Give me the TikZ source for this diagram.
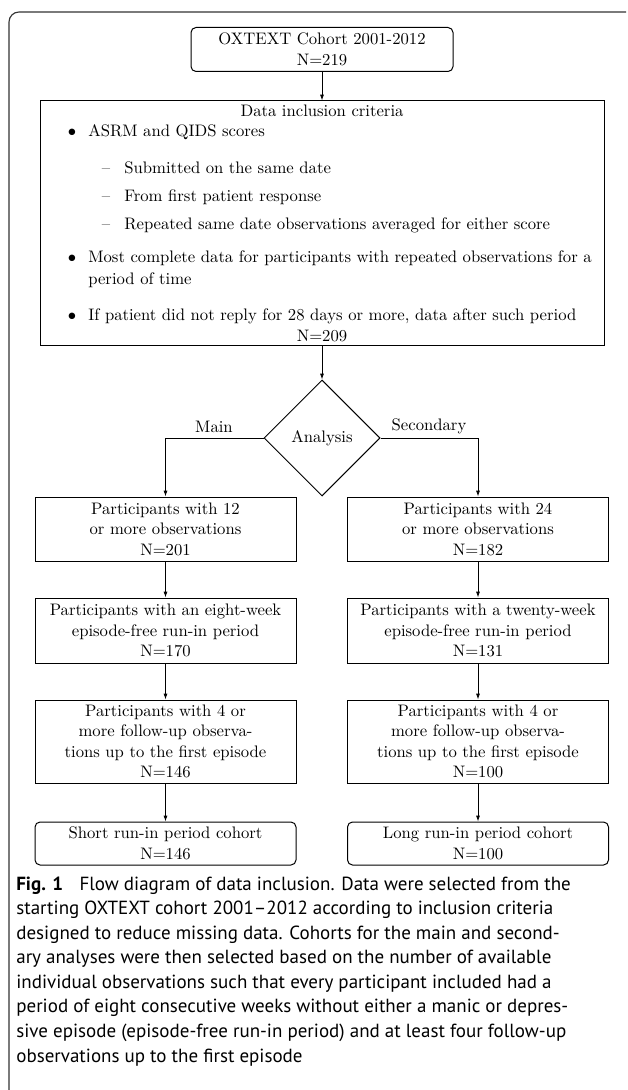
\documentclass[tikz,border=0pt]{standalone}
\usepackage{fontspec}
\newfontfamily\capfont{PT Sans}
\usetikzlibrary{shapes.geometric,arrows.meta}
\begin{document}
\begin{tikzpicture}[x=0.6pt,y=-0.6pt,
  box/.style={draw, line width=0.6pt, align=center, inner sep=0pt, font=\fontsize{10}{12.3}\selectfont},
  rbox/.style={box, rounded corners=3pt},
  arr/.style={-{Latex[length=3.5pt,width=2.4pt]}, line width=0.5pt},
  txt/.style={anchor=base west, inner sep=0pt, font=\fontsize{10}{12}\selectfont},
  ctxt/.style={anchor=base, inner sep=0pt, font=\fontsize{10}{12}\selectfont},
  captxt/.style={anchor=base west, inner sep=0pt, font=\capfont\fontsize{11.4}{14}\selectfont},
  colbox/.style={box, minimum width=156.6pt},
]
\useasboundingbox (0,0) rectangle (627,1090);
% outer frame
\draw[line width=0.7pt, black!80, rounded corners=6pt] (9,1090) -- (9,12) -- (626,12);

% top
\node[rbox, minimum width=157.2pt, minimum height=26.4pt] (start) at (322,49.5)
  {OXTEXT Cohort 2001-2012\\N=219};
\node[box, minimum width=338.4pt, minimum height=147pt] (crit) at (322,223.5) {};
\node[ctxt] (t0) at (322,117) {Data inclusion criteria};
\node[ctxt] (b1) at (72,137) {$\bullet$};
\node[txt] (t1) at (88,137) {ASRM and QIDS scores};
\node[ctxt] (d1) at (106,174) {\textendash};
\node[txt] (t2) at (124,174) {Submitted on the same date};
\node[ctxt] (d2) at (106,202) {\textendash};
\node[txt] (t3) at (124,202) {From first patient response};
\node[ctxt] (d3) at (106,230) {\textendash};
\node[txt] (t4) at (124,230) {Repeated same date observations averaged for either score};
\node[ctxt] (b2) at (72,263) {$\bullet$};
\node[txt] (t5) at (88,263) {Most complete data for participants with repeated observations for a};
\node[txt] (t6) at (88,285) {period of time};
\node[ctxt] (b3) at (72,320) {$\bullet$};
\node[txt] (t7) at (88,320) {If patient did not reply for 28 days or more, data after such period};
\node[ctxt] (t8) at (322,341) {N=209};

% decision
\node[draw, line width=0.6pt, diamond, aspect=1, minimum size=69.6pt, inner sep=0pt,
  font=\fontsize{10}{12}\selectfont] (dia) at (322,438) {Analysis};
\node[ctxt] (lmain) at (214,432) {Main};
\node[ctxt] (lsec) at (429,430) {Secondary};

% left column
\node[colbox, minimum height=38.4pt] (l1) at (165.5,529) {Participants with 12\\or more observations\\N=201};
\node[colbox, minimum height=39pt] (l2) at (165.5,630.5) {Participants with an eight-week\\episode-free run-in period\\N=170};
\node[colbox, minimum height=49.8pt] (l3) at (165.5,741.5) {Participants with 4 or\\more follow-up observa-\\tions up to the first episode\\N=146};
\node[colbox, rounded corners=3pt, minimum height=25.8pt] (l4) at (165.5,843.5) {Short run-in period cohort\\N=146};

% right column
\node[colbox, minimum height=38.4pt] (r1) at (478,529) {Participants with 24\\or more observations\\N=182};
\node[colbox, minimum height=39pt] (r2) at (478,630.5) {Participants with a twenty-week\\episode-free run-in period\\N=131};
\node[colbox, minimum height=49.8pt] (r3) at (478,741.5) {Participants with 4 or\\more follow-up observa-\\tions up to the first episode\\N=100};
\node[colbox, rounded corners=3pt, minimum height=25.8pt] (r4) at (478,843.5) {Long run-in period cohort\\N=100};

% connectors
\draw[arr] (start.south) -- (crit.north);
\draw[arr] (crit.south) -- (dia.north);
\draw[arr] (dia.west) -| (l1.north);
\draw[arr] (dia.east) -| (r1.north);
\draw[arr] (l1.south) -- (l2.north);
\draw[arr] (l2.south) -- (l3.north);
\draw[arr] (l3.south) -- (l4.north);
\draw[arr] (r1.south) -- (r2.north);
\draw[arr] (r2.south) -- (r3.north);
\draw[arr] (r3.south) -- (r4.north);

% caption
\node[captxt] (c1) at (16,890) {\textbf{Fig. 1}\hspace{0.6em} Flow diagram of data inclusion. Data were selected from the};
\node[captxt] (c2) at (16,914.6) {starting OXTEXT cohort 2001–2012 according to inclusion criteria};
\node[captxt] (c3) at (16,939.1) {designed to reduce missing data. Cohorts for the main and second-};
\node[captxt] (c4) at (16,963.7) {ary analyses were then selected based on the number of available};
\node[captxt] (c5) at (16,988.3) {individual observations such that every participant included had a};
\node[captxt] (c6) at (16,1012.8) {period of eight consecutive weeks without either a manic or depres-};
\node[captxt] (c7) at (16,1037.4) {sive episode (episode-free run-in period) and at least four follow-up};
\node[captxt] (c8) at (16,1062) {observations up to the first episode};
\end{tikzpicture}
\end{document}
